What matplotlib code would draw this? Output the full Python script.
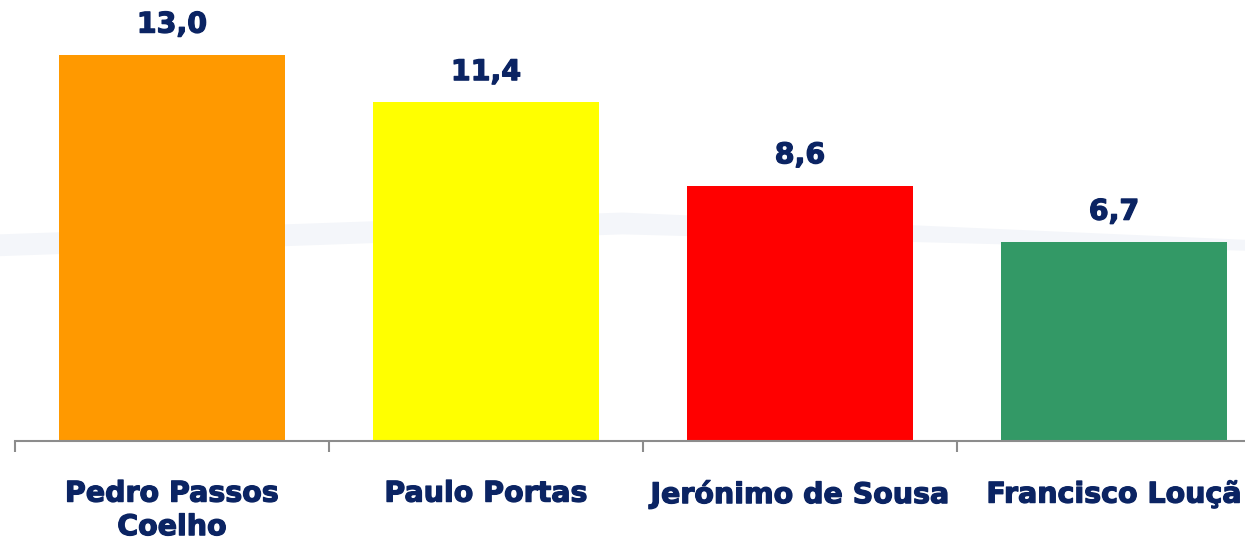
import matplotlib.pyplot as plt
import matplotlib.patheffects as pe
from matplotlib.patches import Polygon

names = ["Pedro Passos\nCoelho", "Paulo Portas", "Jerónimo de Sousa", "Francisco Louçã"]
values = [13.0, 11.4, 8.6, 6.7]
bar_colors = ["#FF9900", "#FFFF00", "#FF0000", "#339966"]

text_color = "#0B2463"
heavy = [pe.withStroke(linewidth=0.9, foreground=text_color)]

fig = plt.figure(figsize=(12.45, 5.45), dpi=100)

# faint watermark band behind everything
bg = fig.add_axes([0, 0, 1, 1], zorder=-1)
bg.set_xlim(0, 1)
bg.set_ylim(0, 1)
bg.axis("off")
bg.add_patch(Polygon([[0, 0.57], [0.5, 0.61], [1.0, 0.56], [1.0, 0.54], [0.5, 0.57], [0, 0.53]],
                     closed=True, facecolor="#F4F6FA", edgecolor="none"))

# axes run from the first tick (x=15px) past the right edge of the figure
ax = fig.add_axes([15 / 1245, 104 / 545, 1256 / 1245, 441 / 545])
ax.patch.set_alpha(0)

x = range(len(values))
bars = ax.bar(x, values, width=0.717, color=bar_colors, zorder=2)

for b, v in zip(bars, values):
    ax.text(b.get_x() + b.get_width() / 2, v + 0.55, f"{v:.1f}".replace(".", ","),
            ha="center", va="bottom", fontsize=20.5, fontweight="bold", color=text_color,
            path_effects=heavy)

ax.set_xlim(-0.5, 3.5)
ax.set_ylim(0, 14.85)

# category boundaries as ticks
ax.set_xticks([-0.5, 0.5, 1.5, 2.5, 3.5])
ax.set_xticklabels([])
ax.tick_params(axis="x", direction="out", length=8, width=1.5, color="#8C8C8C")
ax.set_yticks([])

for i, name in enumerate(names):
    ax.text(i, -1.3, name, ha="center", va="top", fontsize=20.5, fontweight="bold",
            color=text_color, linespacing=1.25, path_effects=heavy)

for side in ["top", "right", "left"]:
    ax.spines[side].set_visible(False)
ax.spines["bottom"].set_color("#8C8C8C")
ax.spines["bottom"].set_linewidth(1.5)

fig.savefig("out.png", dpi=100)
